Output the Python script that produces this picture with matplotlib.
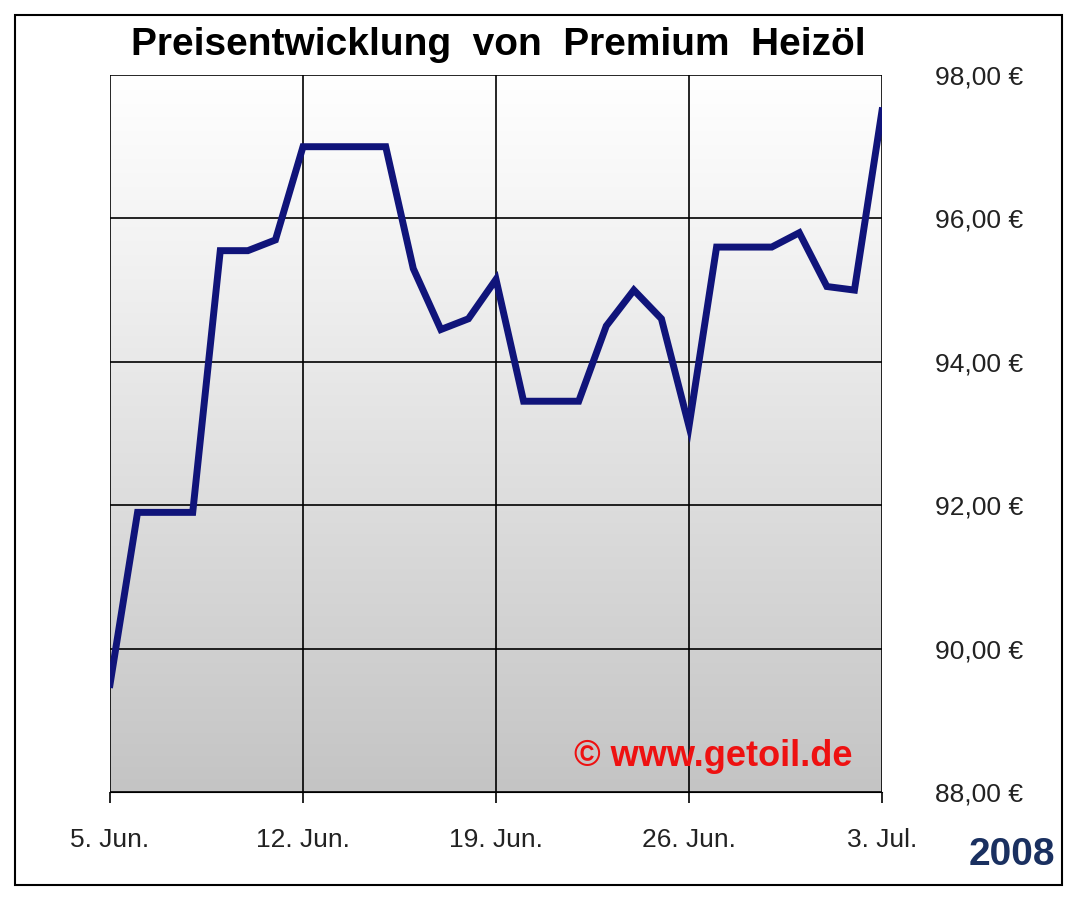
import matplotlib
matplotlib.use("Agg")
import matplotlib.pyplot as plt
import numpy as np
from matplotlib.patches import Rectangle
from matplotlib.colors import LinearSegmentedColormap

plt.rcParams['font.family'] = ['Liberation Sans', 'DejaVu Sans']

days = list(range(29))
prices = [89.5, 91.9, 91.9, 91.9, 95.55, 95.55, 95.7, 97.0, 97.0, 97.0, 97.0,
          95.3, 94.45, 94.6, 95.15, 93.45, 93.45, 93.45, 94.5, 95.0, 94.6,
          93.1, 95.6, 95.6, 95.6, 95.8, 95.05, 95.0, 97.5]
xtick_pos = [0, 7, 14, 21, 28]
xtick_labels = ["5. Jun.", "12. Jun.", "19. Jun.", "26. Jun.", "3. Jul."]
ytick_vals = [88, 90, 92, 94, 96, 98]

fig = plt.figure(figsize=(10.78, 9), dpi=100)
fig.patches.append(Rectangle((15/1078, 15/900), 1047/1078, 870/900, transform=fig.transFigure,
                             fill=False, edgecolor="black", lw=1.5))
ax = fig.add_axes([110/1078, 108/900, 772/1078, 717/900])
ax.set_xlim(0, 28)
ax.set_ylim(88, 98)
grad = np.linspace(0, 1, 256).reshape(-1, 1)
cmap = LinearSegmentedColormap.from_list("g", [(0, "#c4c4c4"), (0.75, "#f2f2f2"), (1, "#ffffff")])
ax.imshow(grad, extent=[0, 28, 88, 98], origin="lower", aspect="auto", cmap=cmap, zorder=0)
for x in xtick_pos:
    ax.axvline(x, color="black", lw=1.2, zorder=1)
for y in ytick_vals:
    ax.axhline(y, color="black", lw=1.2, zorder=1)
ax.plot(days, prices, color="#10147a", lw=5, zorder=3, solid_joinstyle="miter")
for s in ["top", "left", "right"]:
    ax.spines[s].set_visible(False)
ax.spines["bottom"].set_color("black")
ax.yaxis.tick_right()
ax.set_yticks(ytick_vals)
ax.set_yticklabels([f"{v:.2f} €".replace(".", ",") for v in ytick_vals], fontsize=19, color="#222")
ax.set_xticks(xtick_pos)
ax.set_xticklabels(xtick_labels, fontsize=19, color="#222")
ax.tick_params(axis="y", length=0, pad=38)
ax.tick_params(axis="x", length=8, width=1.2, pad=18)
ax.text(0.962, 0.05, "© www.getoil.de", transform=ax.transAxes, color="#ee1111",
        fontsize=26, fontweight="bold", ha="right", va="center")
fig.text(498/1078, 1-45/900, "Preisentwicklung  von  Premium  Heizöl", fontsize=28,
         fontweight="bold", ha="center", va="center")
fig.text(1055/1078, 1-855/900, "2008", fontsize=28, fontweight="bold", color="#1a3060",
         ha="right", va="center")
fig.savefig("out.png", dpi=100)
